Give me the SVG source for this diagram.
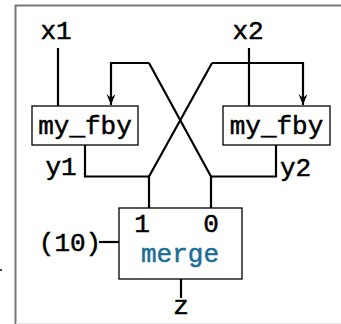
<svg xmlns="http://www.w3.org/2000/svg" width="341" height="324" viewBox="0 0 341 324">
<defs>
<style>
.t{font-family:"Liberation Mono","DejaVu Sans Mono",monospace;font-size:26px;fill:#000;stroke:#000;stroke-width:0.5}
.m{fill:#1a6e96;stroke:#1a6e96}
.box{fill:#fff;stroke:#000;stroke-width:1.3}
.w{fill:none;stroke:#000;stroke-width:2.2;stroke-linejoin:miter}
</style>
<marker id="ar" viewBox="0 0 12 10" refX="11" refY="5" markerWidth="12" markerHeight="10" markerUnits="userSpaceOnUse" orient="auto">
<path d="M0,0.5 L11,5 L0,9.5 L4,5 Z" fill="#000"/>
</marker>
</defs>
<rect width="341" height="324" fill="#fff"/>
<g id="frame">
<path d="M15.5,324 V5.5 H341" fill="none" stroke="#777" stroke-width="2"/>
<line x1="16" y1="323.5" x2="341" y2="323.5" stroke="#e6e6e6" stroke-width="1"/>
<rect x="0" y="269" width="2" height="2" fill="#444"/>
</g>
<g id="connectors">
<path class="w" d="M58,48 V106"/>
<path class="w" d="M249,48 V106"/>
<path class="w" d="M149,63 H111 V105" marker-end="url(#ar)"/>
<path class="w" d="M212,63 H303 V105" marker-end="url(#ar)"/>
<path class="w" d="M149,63 L211,176.5 V208"/>
<path class="w" d="M212,63 L149,176.5 V208"/>
<path class="w" d="M85,145 V176.5 H149"/>
<path class="w" d="M276,145 V176.5 H211"/>
<path class="w" d="M99,242 H119"/>
<path class="w" d="M181,279 V298"/>
</g>
<g id="x1"><text class="t" x="56" y="39" text-anchor="middle">x1</text></g>
<g id="x2"><text class="t" x="248" y="39" text-anchor="middle">x2</text></g>
<g id="fby1"><rect class="box" x="32" y="106" width="106" height="39"/><text class="t" x="85" y="134" text-anchor="middle">my_fby</text></g>
<g id="fby2"><rect class="box" x="223" y="106" width="107" height="39"/><text class="t" x="276.5" y="134" text-anchor="middle">my_fby</text></g>
<g id="y1"><text class="t" x="61" y="175" text-anchor="middle">y1</text></g>
<g id="y2"><text class="t" x="280" y="176">y2</text></g>
<g id="merge"><rect class="box" x="119" y="208" width="123" height="71"/>
<text class="t" x="142" y="232" text-anchor="middle">1</text>
<text class="t" x="211" y="232" text-anchor="middle">0</text>
<text class="t m" x="180" y="262" text-anchor="middle">merge</text></g>
<g id="init"><text class="t" x="70" y="251" text-anchor="middle">(10)</text></g>
<g id="z"><text class="t" x="181" y="314" text-anchor="middle">z</text></g>
</svg>
